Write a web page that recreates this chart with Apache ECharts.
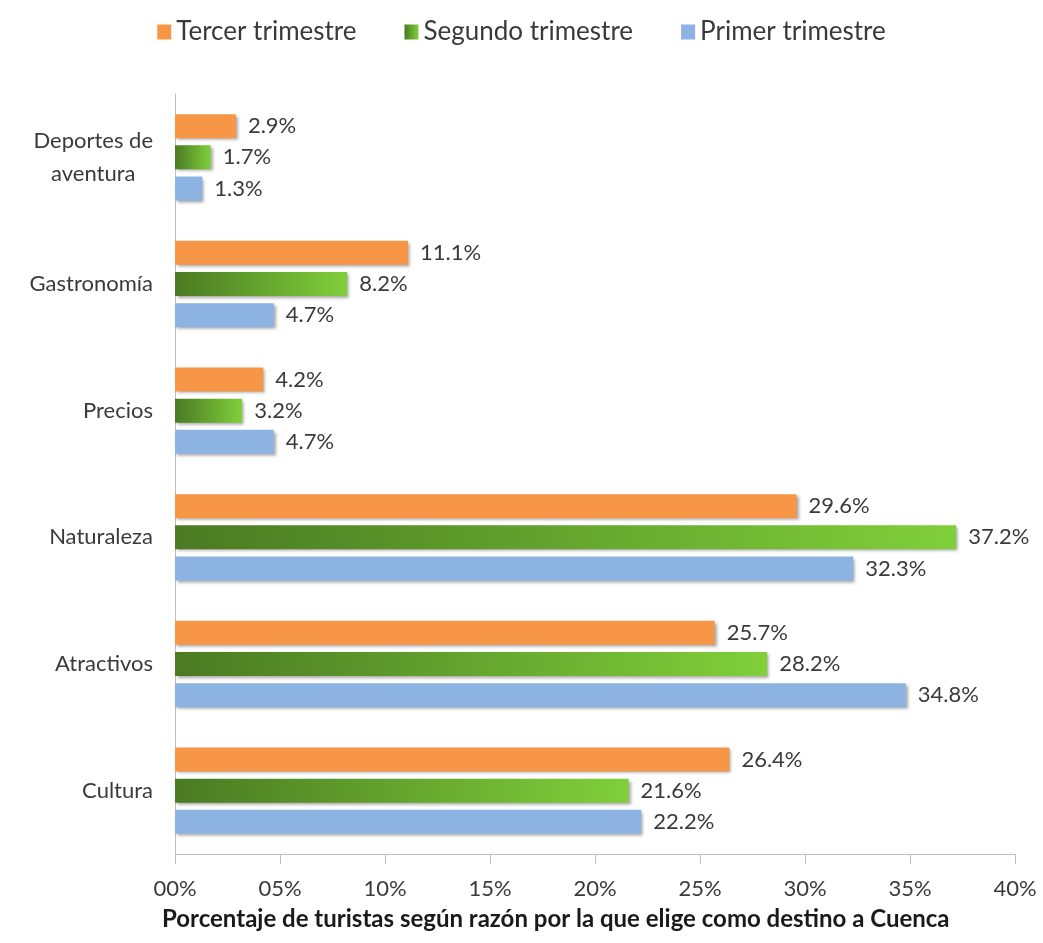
<!DOCTYPE html>
<html>
<head>
<meta charset="utf-8">
<script src="https://cdn.jsdelivr.net/npm/echarts@6/dist/echarts.min.js"></script>
<style>html,body{margin:0;padding:0;background:#fff;}#c{width:1043px;height:943px;}</style>
</head>
<body>
<div id="c"></div>
<script>
const categories = ['Cultura', 'Atractivos', 'Naturaleza', 'Precios', 'Gastronomía', 'Deportes de\naventura'];
const seriesNames = ['Tercer trimestre', 'Segundo trimestre', 'Primer trimestre'];
const tercer = [26.4, 25.7, 29.6, 4.2, 11.1, 2.9];
const segundo = [21.6, 28.2, 37.2, 3.2, 8.2, 1.7];
const primer = [22.2, 34.8, 32.3, 4.7, 4.7, 1.3];
const xTicks = [0, 5, 10, 15, 20, 25, 30, 35, 40];
const axisTitle = 'Porcentaje de turistas según razón por la que elige como destino a Cuenca';

const font = 'Lato, "Open Sans", sans-serif';
const shadow = { shadowColor: 'rgba(0,0,0,0.35)', shadowBlur: 3, shadowOffsetX: 2, shadowOffsetY: 2 };
const label = { show: true, position: 'right', distance: 12, fontFamily: font, fontSize: 22, color: '#3a3a3a', formatter: p => p.value.toFixed(1) + '%' };

const chart = echarts.init(document.getElementById('c'));
chart.setOption({
  animation: false,
  backgroundColor: '#fff',
  title: {
    text: axisTitle, left: 157, top: 902,
    textStyle: { fontFamily: font, fontSize: 24, fontWeight: 'bold', color: '#1a1a1a' }
  },
  legend: {
    top: 14, left: 'center', itemWidth: 14, itemHeight: 15, itemGap: 48,
    icon: 'rect',
    textStyle: { fontFamily: font, fontSize: 26, color: '#3a3a3a' },
    data: seriesNames
  },
  grid: { left: 175, right: 28, top: 94, bottom: 89 },
  xAxis: {
    type: 'value', min: 0, max: 40, interval: 5,
    axisLine: { show: true, lineStyle: { color: '#BFBFBF' } },
    axisTick: { show: true, length: 10, lineStyle: { color: '#BFBFBF' } },
    splitLine: { show: false },
    axisLabel: { fontFamily: font, fontSize: 22, color: '#3a3a3a', margin: 24,
      formatter: v => (v < 10 ? '0' + v : '' + v) + '%' }
  },
  yAxis: {
    type: 'category', data: categories,
    axisLine: { show: true, lineStyle: { color: '#BFBFBF' } },
    axisTick: { show: false },
    axisLabel: { fontFamily: font, fontSize: 22, color: '#3a3a3a', margin: 22,
      formatter: v => v.split('\n').map(s => '{c|' + s + '}').join('\n'),
      rich: { c: { align: 'center', fontFamily: font, fontSize: 22, color: '#3a3a3a', lineHeight: 33 } } }
  },
  series: [
    { name: seriesNames[0], type: 'bar', data: tercer, barWidth: 24, barGap: '30%',
      itemStyle: Object.assign({ color: '#F79646' }, shadow), label: label },
    { name: seriesNames[1], type: 'bar', data: segundo, barWidth: 24, barGap: '30%',
      itemStyle: Object.assign({ color: new echarts.graphic.LinearGradient(0, 0, 1, 0, [
        { offset: 0, color: '#4A7A22' }, { offset: 1, color: '#80CF3A' }]) }, shadow), label: label },
    { name: seriesNames[2], type: 'bar', data: primer, barWidth: 24, barGap: '30%',
      itemStyle: Object.assign({ color: '#8DB3E2' }, shadow), label: label }
  ]
});
</script>
</body>
</html>
